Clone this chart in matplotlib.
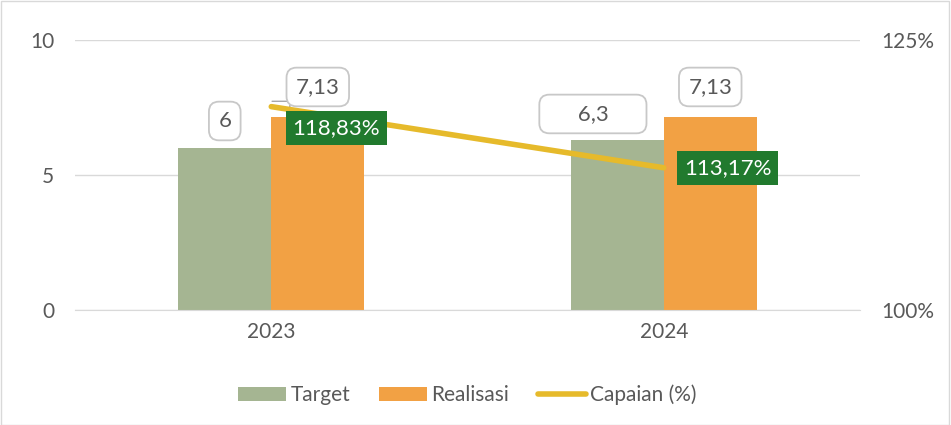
import numpy as np
import matplotlib.pyplot as plt
from matplotlib.patches import Rectangle

plt.rcParams['font.family'] = ['Lato', 'DejaVu Sans']

# data
years = ["2023", "2024"]
target = [6, 6.3]
realisasi = [7.13, 7.13]
capaian = [118.83, 113.17]
target_lbl = ["6", "6,3"]
real_lbl = ["7,13", "7,13"]
cap_lbl = ["118,83%", "113,17%"]

c_target = "#A5B592"
c_real = "#F2A144"
c_line = "#E6BA2B"
c_green = "#217A2E"
c_text = "#595959"
c_grid = "#D9D9D9"

fig = plt.figure(figsize=[9.51, 4.25], dpi=100)
ax = fig.add_axes([0.0789, 0.2706, 0.8254, 0.6353])
ax2 = ax.twinx()

x = np.arange(len(years))
w = 0.237
ax.bar(x - w/2, target, w, color=c_target, label="Target", zorder=2)
ax.bar(x + w/2, realisasi, w, color=c_real, label="Realisasi", zorder=2)
ax2.plot(x, capaian, "-", color=c_line, lw=4, solid_capstyle="round", label="Capaian (%)", zorder=3)

ax.set_xlim(-0.5, 1.5)
ax.set_ylim(0, 10)
ax.set_yticks([0, 5, 10])
ax2.set_ylim(100, 125)
ax2.set_yticks([100, 125])
ax2.set_yticklabels(["100%", "125%"])
ax.set_xticks(x)
ax.set_xticklabels(years)
ax.grid(True, 'major', 'y', color=c_grid, lw=1, zorder=0)
ax.set_axisbelow(True)
for a in (ax, ax2):
	for s in a.spines.values():
		s.set_visible(False)
	a.tick_params(length=0, labelsize=15, colors=c_text)
ax.spines['bottom'].set_visible(True)
ax.spines['bottom'].set_color(c_grid)
ax.tick_params(axis='y', pad=15)
ax.tick_params(axis='x', pad=9)
ax2.tick_params(axis='y', pad=15)

box = dict(boxstyle="round,pad=0.42,rounding_size=0.45", fc="white", ec="#C8C8C8", lw=1.3)
# data labels
ax.text(x[0] - w/2, target[0] + 1.0, target_lbl[0], ha="center", va="center", fontsize=16, color=c_text, bbox=box, zorder=5)
ax.text(x[1] - w/2 - 0.062, target[1] + 0.96, "     " + target_lbl[1] + "     ", ha="center", va="center", fontsize=16, color=c_text, bbox=box, zorder=5)
for i in range(len(years)):
	ax.text(x[i] + w/2, realisasi[i] + 1.13, real_lbl[i], ha="center", va="center", fontsize=16, color=c_text, bbox=box, zorder=5)

# leader line for first realisasi label
ax.annotate("", xy=(x[0] + 0.04, realisasi[0] - 0.8), xytext=(x[0] - 0.005, realisasi[0] + 0.6),
	arrowprops=dict(arrowstyle="-", color="#A6A6A6", lw=1, connectionstyle="angle,angleA=0,angleB=85"), zorder=4)

gbox = dict(boxstyle="square,pad=0.3", fc=c_green, ec="none")
offs = [(0.166, -1.98), (0.163, -0.02)]
for i in range(len(years)):
	ax2.text(x[i] + offs[i][0], capaian[i] + offs[i][1], cap_lbl[i], ha="center", va="center", fontsize=16, color="white", bbox=gbox, zorder=6)

h1, l1 = ax.get_legend_handles_labels()
h2, l2 = ax2.get_legend_handles_labels()
fig.legend(h1 + h2, l1 + l2, loc="center", bbox_to_anchor=(0.4916, 0.0706), ncol=3, frameon=False,
	fontsize=15, labelcolor=c_text, handlelength=2.3, handleheight=0.63, handletextpad=0.2, columnspacing=1.4)

fig.patches.append(Rectangle((0.001, 0.001), 0.997, 0.997, transform=fig.transFigure, fill=False, ec=c_grid, lw=1))

plt.savefig("out.png")
